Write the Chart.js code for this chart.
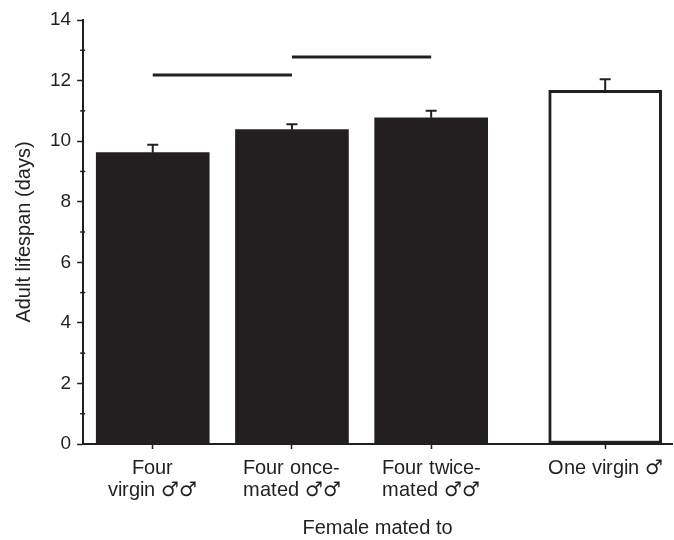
<!DOCTYPE html>
<html>
<head>
<meta charset="utf-8">
<script src="https://cdn.jsdelivr.net/npm/chart.js@4"></script>
<style>
  /* male sign from DejaVu, everything else from Liberation Sans */
  @font-face {
    font-family: 'LabelSans';
    src: local('Liberation Sans'), local('LiberationSans');
  }
  @font-face {
    font-family: 'LabelSans';
    src: local('DejaVu Sans Bold'), local('DejaVuSans-Bold');
    unicode-range: U+2640-2642;
  }
  html, body { margin: 0; padding: 0; background: #fff; }
  #wrap { width: 674px; height: 540px; }
</style>
</head>
<body>
<div id="wrap"><canvas id="lifespanChart"></canvas></div>
<script>
// data
const categories = [
    ['Four', 'virgin \u2642\u2642'],
    ['Four once-', 'mated \u2642\u2642'],
    ['Four twice-', 'mated \u2642\u2642'],
    ['One virgin \u2642']
];
const positions = [1, 2, 3, 4.25];          // uneven spacing in the original
const lifespan = [9.62, 10.38, 10.77, 11.68];
const stdErr = [0.26, 0.18, 0.23, 0.36];
const yTicks = [0, 2, 4, 6, 8, 10, 12, 14];
const sigFrom = [1, 2];
const sigTo = [2, 3];
const sigLevel = [12.18, 12.78];

const ink = '#231f20';
const fontFamily = "'Liberation Sans', Arial, sans-serif";
const labelFamily = "LabelSans, 'Liberation Sans', sans-serif";

// upward error bars with caps
const errorBars = {
    id: 'errorBars',
    afterDatasetsDraw(chart) {
        const {ctx, scales: {x, y}} = chart;
        ctx.save();
        ctx.strokeStyle = ink;
        ctx.lineWidth = 2;
        lifespan.forEach((v, i) => {
            const px = x.getPixelForValue(positions[i]);
            const y0 = y.getPixelForValue(v);
            const y1 = y.getPixelForValue(v + stdErr[i]);
            ctx.beginPath();
            ctx.moveTo(px, y0);
            ctx.lineTo(px, y1);
            ctx.moveTo(px - 5.5, y1);
            ctx.lineTo(px + 5.5, y1);
            ctx.stroke();
        });
        ctx.restore();
    }
};

// small unlabelled ticks at odd values
const minorTicks = {
    id: 'minorTicks',
    afterDraw(chart) {
        const {ctx, scales: {y}} = chart;
        ctx.save();
        ctx.strokeStyle = ink;
        ctx.lineWidth = 1.5;
        for (let v = 1; v < 14; v += 2) {
            const py = y.getPixelForValue(v);
            ctx.beginPath();
            ctx.moveTo(y.right - 3, py);
            ctx.lineTo(y.right + 2, py);
            ctx.stroke();
        }
        ctx.restore();
    }
};

const sigSets = sigLevel.map((lvl, i) => ({
    type: 'line',
    data: [{x: sigFrom[i], y: lvl}, {x: sigTo[i], y: lvl}],
    borderColor: ink,
    borderWidth: 3,
    pointRadius: 0,
    fill: false
}));

function drawChart() {
    new Chart(document.getElementById('lifespanChart'), {
        type: 'bar',
        data: {
            datasets: [{
                type: 'bar',
                data: positions.map((p, i) => ({x: p, y: lifespan[i]})),
                backgroundColor: [ink, ink, ink, '#ffffff'],
                borderColor: ink,
                borderWidth: [0, 0, 0, 3],
                borderSkipped: false,
                barThickness: 113
            }, ...sigSets]
        },
        options: {
            responsive: true,
            maintainAspectRatio: false,
            animation: false,
            layout: {
                padding: {top: 20, right: 2, left: 2, bottom: 0}
            },
            plugins: {
                legend: {display: false},
                tooltip: {enabled: false}
            },
            scales: {
                x: {
                    type: 'linear',
                    offset: false,
                    min: 0.5,
                    max: 4.73,
                    afterBuildTicks: (scale) => {
                        scale.ticks = positions.map(p => ({value: p}));
                    },
                    ticks: {
                        autoSkip: false,
                        maxRotation: 0,
                        padding: 8,
                        color: ink,
                        font: {family: labelFamily, size: 20, lineHeight: 1.1},
                        callback: (value, index) => categories[index]
                    },
                    grid: {
                        offset: false,
                        drawOnChartArea: false,
                        tickLength: 5,
                        tickWidth: 1.5,
                        color: ink
                    },
                    border: {color: ink, width: 2},
                    title: {
                        display: true,
                        text: 'Female mated to',
                        color: ink,
                        font: {family: fontFamily, size: 20},
                        padding: {top: 7, bottom: 0}
                    }
                },
                y: {
                    min: 0,
                    max: 14,
                    afterBuildTicks: (scale) => {
                        scale.ticks = yTicks.map(v => ({value: v}));
                    },
                    ticks: {
                        padding: 6,
                        color: ink,
                        font: {family: fontFamily, size: 19}
                    },
                    grid: {
                        drawOnChartArea: false,
                        tickLength: 6,
                        tickWidth: 1.5,
                        color: ink
                    },
                    border: {color: ink, width: 2},
                    title: {
                        display: true,
                        text: 'Adult lifespan (days)',
                        color: ink,
                        font: {family: fontFamily, size: 20},
                        padding: {top: 10, bottom: 8}
                    }
                }
            }
        },
        plugins: [errorBars, minorTicks]
    });
}

Promise.all([
    document.fonts.load('20px LabelSans', 'Four'),
    document.fonts.load('20px LabelSans', '\u2642')
]).then(drawChart, drawChart);
</script>
</body>
</html>
